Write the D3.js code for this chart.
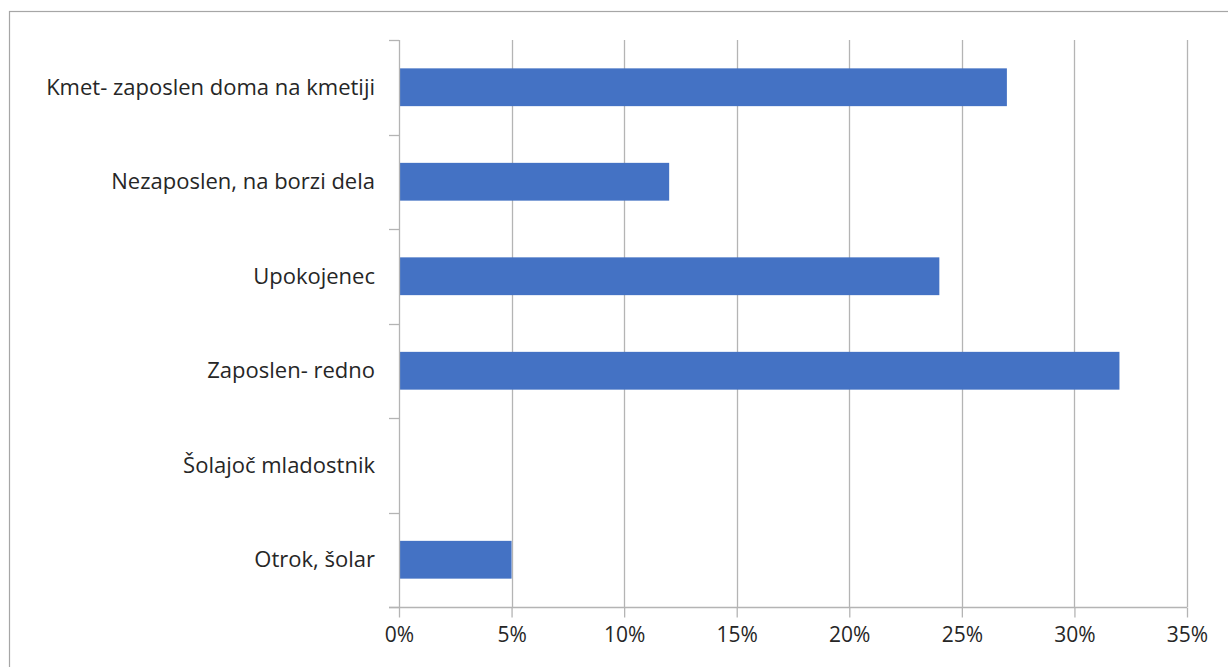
<!DOCTYPE html>
<html>
<head>
<meta charset="utf-8">
<script src="https://cdn.jsdelivr.net/npm/d3@7"></script>
<style>
  html, body { margin: 0; padding: 0; background: #fff; }
  svg { display: block; }
  text { font-family: "Open Sans", "Noto Sans", sans-serif; fill: #262626; }
</style>
</head>
<body>
<svg id="chart" width="1228" height="667"></svg>
<script>
// Categories, top to bottom
const categories = [
  "Kmet- zaposlen doma na kmetiji",
  "Nezaposlen, na borzi dela",
  "Upokojenec",
  "Zaposlen- redno",
  "Šolajoč mladostnik",
  "Otrok, šolar"
];
// Share of respondents (%)
const values = [27, 12, 24, 32, 0, 5];
// Horizontal axis ticks (%)
const xTicks = [0, 5, 10, 15, 20, 25, 30, 35];

const svg = d3.select("#chart");
const W = 1228, H = 667;
const plot = { left: 399, right: 1187, top: 40, bottom: 607 };

// Chart frame
svg.append("rect")
  .attr("x", 9.5).attr("y", 11.5)
  .attr("width", W + 10).attr("height", H + 10)
  .attr("fill", "none").attr("stroke", "#a6a6a6").attr("stroke-width", 1.2);

const x = d3.scaleLinear().domain([0, 35]).range([plot.left, plot.right]);
const y = d3.scaleBand().domain(categories).range([plot.top, plot.bottom]).paddingInner(0.6).paddingOuter(0.3);
const yEdges = d3.scaleLinear().domain([0, categories.length]).range([plot.top, plot.bottom]);

const gridColor = "#b4b4b4";

// Vertical gridlines
svg.append("g").selectAll("line")
  .data(xTicks.filter(t => t > 0))
  .join("line")
  .attr("x1", d => Math.round(x(d)) + 0.5).attr("x2", d => Math.round(x(d)) + 0.5)
  .attr("y1", plot.top).attr("y2", plot.bottom)
  .attr("stroke", gridColor).attr("stroke-width", 1.3);

// Bars
svg.append("g").selectAll("rect")
  .data(categories.map((c, i) => ({ c, v: values[i] })))
  .join("rect")
  .attr("x", x(0))
  .attr("y", d => y(d.c))
  .attr("width", d => x(d.v) - x(0))
  .attr("height", y.bandwidth())
  .attr("fill", "#4472C4");

// Horizontal axis
const xAxis = d3.axisBottom(x)
  .tickValues(xTicks)
  .tickFormat(d => d + "%")
  .tickSize(10)
  .tickSizeOuter(0);
const gx = svg.append("g")
  .attr("transform", `translate(0,${plot.bottom + 0.5})`)
  .call(xAxis);
gx.select(".domain").remove();
gx.append("line")
  .attr("x1", plot.left - 10).attr("x2", plot.right)
  .attr("stroke", gridColor).attr("stroke-width", 1.3);
gx.selectAll(".tick line").attr("stroke", gridColor).attr("stroke-width", 1.3);
gx.selectAll(".tick text")
  .attr("y", 20)
  .attr("dy", "0.71em")
  .style("font-size", "21px")
  .style("font-family", "'Open Sans', 'Noto Sans', sans-serif")
  .attr("fill", "#262626");

// Vertical axis line with category boundary ticks
const gy = svg.append("g");
gy.append("line")
  .attr("x1", plot.left + 0.5).attr("x2", plot.left + 0.5)
  .attr("y1", plot.top).attr("y2", plot.bottom)
  .attr("stroke", gridColor).attr("stroke-width", 1.3);
gy.selectAll("line.edge")
  .data(d3.range(categories.length + 1))
  .join("line")
  .attr("class", "edge")
  .attr("x1", plot.left - 10).attr("x2", plot.left)
  .attr("y1", d => Math.round(yEdges(d)) + 0.5).attr("y2", d => Math.round(yEdges(d)) + 0.5)
  .attr("stroke", gridColor).attr("stroke-width", 1.3);

// Category labels
svg.append("g").selectAll("text")
  .data(categories)
  .join("text")
  .attr("x", plot.left - 24)
  .attr("y", d => y(d) + y.bandwidth() / 2)
  .attr("dy", "0.35em")
  .attr("text-anchor", "end")
  .style("font-size", "22px")
  .text(d => d);
</script>
</body>
</html>
